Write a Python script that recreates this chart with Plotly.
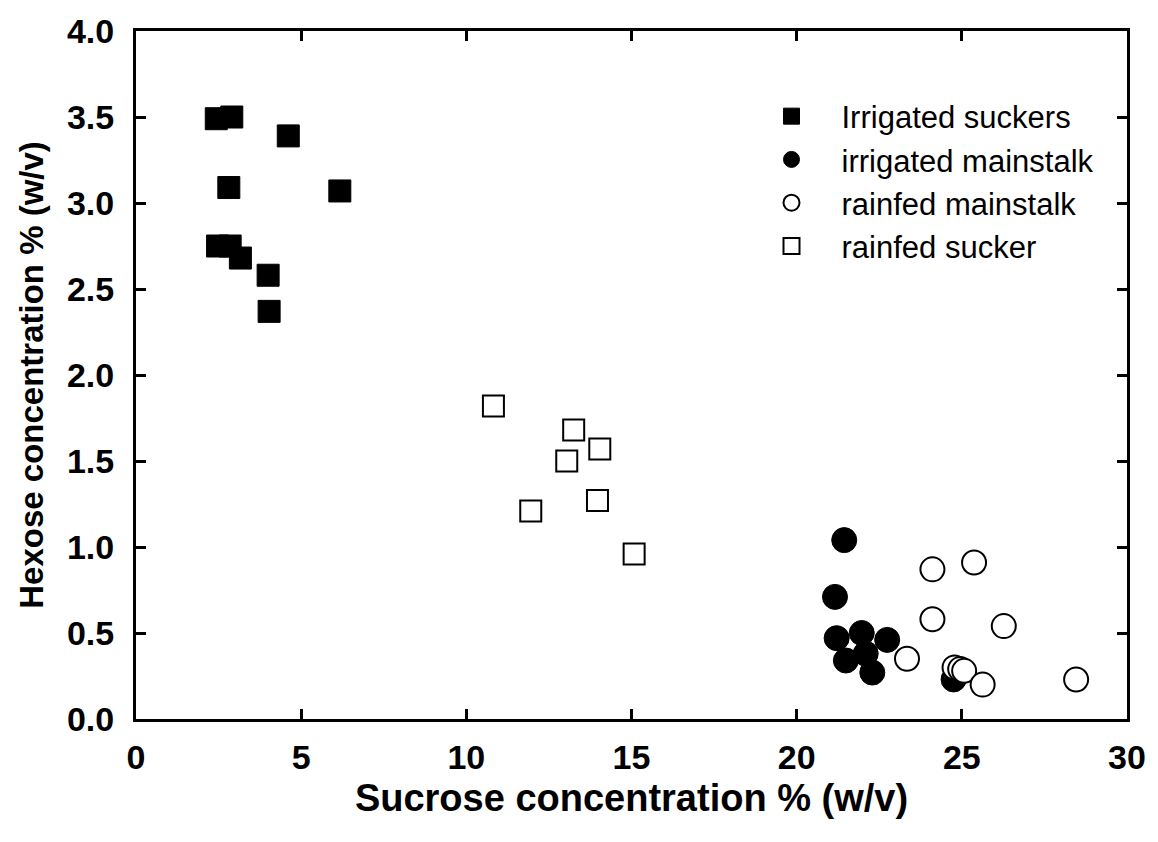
import plotly.graph_objects as go

# Irrigated suckers (filled squares)
irr_suck_x = [2.43, 2.90, 4.61, 2.81, 6.17, 2.47, 2.85, 3.16, 4.00, 4.03]
irr_suck_y = [3.49, 3.50, 3.39, 3.09, 3.07, 2.75, 2.75, 2.68, 2.58, 2.37]

# irrigated mainstalk (filled circles)
irr_main_x = [21.44, 21.16, 21.21, 21.97, 22.74, 21.49, 22.09, 22.29, 24.75]
irr_main_y = [1.04, 0.71, 0.47, 0.50, 0.46, 0.34, 0.38, 0.27, 0.23]

# rainfed mainstalk (open circles)
rain_main_x = [24.11, 25.37, 24.11, 26.27, 23.34, 24.78, 24.95, 25.07, 25.63, 28.46]
rain_main_y = [0.87, 0.91, 0.58, 0.54, 0.35, 0.30, 0.29, 0.28, 0.20, 0.23]

# rainfed sucker (open squares)
rain_suck_x = [10.82, 13.25, 14.04, 13.04, 13.97, 11.95, 15.08]
rain_suck_y = [1.82, 1.68, 1.57, 1.50, 1.27, 1.21, 0.96]

x_ticks = [0, 5, 10, 15, 20, 25, 30]
y_ticks = [0.0, 0.5, 1.0, 1.5, 2.0, 2.5, 3.0, 3.5, 4.0]

FONT = "Liberation Sans, Arial, sans-serif"

fig = go.Figure()
fig.add_trace(go.Scatter(x=irr_suck_x, y=irr_suck_y, mode="markers", name="Irrigated suckers",
                         marker=dict(symbol="square", size=22, color="black",
                                     line=dict(color="black", width=1))))
fig.add_trace(go.Scatter(x=irr_main_x, y=irr_main_y, mode="markers", name="irrigated mainstalk",
                         marker=dict(symbol="circle", size=25, color="black",
                                     line=dict(color="black", width=1))))
fig.add_trace(go.Scatter(x=rain_main_x, y=rain_main_y, mode="markers", name="rainfed mainstalk",
                         marker=dict(symbol="circle", size=24, color="white",
                                     line=dict(color="black", width=2))))
fig.add_trace(go.Scatter(x=rain_suck_x, y=rain_suck_y, mode="markers", name="rainfed sucker",
                         marker=dict(symbol="square", size=21, color="white",
                                     line=dict(color="black", width=2))))

axis_common = dict(showline=True, linecolor="black", linewidth=3, mirror="ticks",
                   ticks="inside", ticklen=10, tickwidth=3, tickcolor="black",
                   showgrid=False, zeroline=False,
                   tickfont=dict(family=FONT, size=34, color="black", weight="bold"))

fig.update_xaxes(range=[0, 30], tickvals=x_ticks, ticktext=[str(v) for v in x_ticks],
                 ticklabelstandoff=6,
                 title=dict(text="Sucrose concentration % (w/v)", standoff=10,
                            font=dict(family=FONT, size=38, color="black", weight="bold")),
                 **axis_common)
fig.update_yaxes(range=[0, 4], tickvals=y_ticks, ticktext=[f"{v:.1f}" for v in y_ticks],
                 ticklabelstandoff=12,
                 title=dict(text="Hexose concentration % (w/v)", standoff=14,
                            font=dict(family=FONT, size=33, color="black", weight="bold")),
                 **axis_common)

fig.update_layout(
    width=1158, height=842,
    margin=dict(l=136, r=25, t=24, b=123),
    paper_bgcolor="white", plot_bgcolor="white",
    font=dict(family=FONT, color="black"),
    legend=dict(x=0.611, y=0.915, xanchor="left", yanchor="top",
                bgcolor="rgba(0,0,0,0)", itemwidth=90,
                font=dict(family=FONT, size=31, color="black")),
)

fig.write_html("out.html")
